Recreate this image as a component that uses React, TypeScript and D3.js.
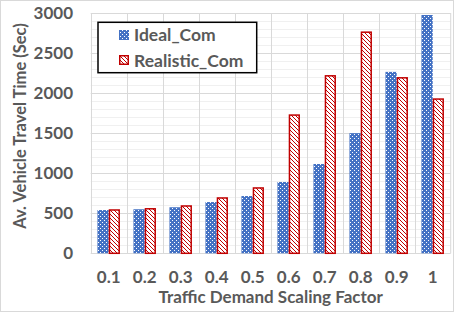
import React from "react";
import * as d3 from "d3";

const categories = ["0.1", "0.2", "0.3", "0.4", "0.5", "0.6", "0.7", "0.8", "0.9", "1"];
const seriesNames = ["Ideal_Com", "Realistic_Com"];
const idealValues = [540, 550, 575, 640, 715, 890, 1115, 1500, 2265, 2975];
const realisticValues = [550, 565, 600, 700, 825, 1735, 2225, 2770, 2200, 1935];
const yTicks = [0, 500, 1000, 1500, 2000, 2500, 3000];
const xTitle = "Traffic Demand Scaling Factor";
const yTitle = "Av. Vehicle Travel Time (Sec)";

const W = 454;
const H = 312;
const FONT = "Lato, 'Open Sans', sans-serif";
const TEXT = "#595959";

export default function App() {
  const left = 90.7, right = 450.7, top = 13, bottom = 253.3;
  const y = d3.scaleLinear().domain([0, 3000]).range([bottom, top]);
  const x0 = d3.scaleBand<string>().domain(categories).range([left, right]).padding(0);
  const x1 = d3.scaleBand<string>().domain(seriesNames).range([0, x0.bandwidth()]).paddingInner(0).paddingOuter(0.6);
  const minor = d3.range(0, 3001, 100).filter((v) => v % 500 !== 0);
  const seriesData = [idealValues, realisticValues];

  return (
    <svg width={W} height={H} style={{ position: "fixed", left: 0, top: 0 }} xmlns="http://www.w3.org/2000/svg">
      <defs>
        <pattern id="dots" width={4} height={4} patternUnits="userSpaceOnUse">
          <rect width={4} height={4} fill="#4472C4" />
          <rect x={0} y={0} width={1} height={1} fill="#ffffff" />
          <rect x={2} y={2} width={1} height={1} fill="#ffffff" />
        </pattern>
        <pattern id="hatch" width={4} height={4} patternUnits="userSpaceOnUse">
          <rect width={4} height={4} fill="#ffffff" />
          <path d="M-1,-1 L5,5 M-1,3 L1,5 M3,-1 L5,1" stroke="#C00000" strokeWidth={1} />
        </pattern>
      </defs>
      <rect x={0} y={0} width={W} height={H} fill="#ffffff" />
      <rect x={0.5} y={0.5} width={W - 1} height={H - 1} fill="none" stroke="#d9d9d9" />

      {minor.map((v) => (
        <line key={"mi" + v} x1={left} x2={right} y1={Math.round(y(v)) + 0.5} y2={Math.round(y(v)) + 0.5} stroke="#f0f0f0" />
      ))}
      {yTicks.map((v) => (
        <line key={"ma" + v} x1={left} x2={right} y1={Math.round(y(v)) + 0.5} y2={Math.round(y(v)) + 0.5} stroke="#d9d9d9" />
      ))}
      {categories.map((c) => (
        <line key={"v" + c} x1={Math.round(x0(c)!) + 0.5} x2={Math.round(x0(c)!) + 0.5} y1={top} y2={bottom} stroke="#d9d9d9" />
      ))}
      <line x1={right} x2={right} y1={top} y2={bottom} stroke="#d9d9d9" />

      {categories.map((c, i) => (
        <g key={"b" + c}>
          <rect x={x0(c)! + x1(seriesNames[0])!} y={y(seriesData[0][i])} width={x1.bandwidth()} height={bottom - y(seriesData[0][i])} fill="url(#dots)" />
          <rect x={x0(c)! + x1(seriesNames[1])! + 0.75} y={y(seriesData[1][i]) + 0.75} width={x1.bandwidth() - 1.5} height={bottom - y(seriesData[1][i]) - 0.75} fill="url(#hatch)" stroke="#C00000" strokeWidth={1.5} />
        </g>
      ))}

      {yTicks.map((v) => (
        <text key={"yt" + v} x={73} y={y(v)} dy="0.36em" textAnchor="end" fontFamily={FONT} fontWeight={700} fontSize={17} fill={TEXT}>{v}</text>
      ))}
      {categories.map((c) => (
        <text key={"xt" + c} x={x0(c)! + x0.bandwidth() / 2} y={277} dy="0.36em" textAnchor="middle" fontFamily={FONT} fontWeight={700} fontSize={17} fill={TEXT}>{c}</text>
      ))}
      <text x={(left + right) / 2} y={297} dy="0.36em" textAnchor="middle" fontFamily={FONT} fontWeight={700} fontSize={17} fill={TEXT}>{xTitle}</text>
      <text transform={`translate(20,${126}) rotate(-90)`} textAnchor="middle" dy="0.36em" fontFamily={FONT} fontWeight={700} fontSize={16.5} fill={TEXT}>{yTitle}</text>

      <rect x={98} y={22.3} width={158.7} height={50.4} fill="#ffffff" stroke="#000000" strokeWidth={1.5} />
      <rect x={119} y={30} width={10} height={10} fill="url(#dots)" />
      <rect x={119.75} y={55.75} width={8.5} height={8.5} fill="url(#hatch)" stroke="#C00000" strokeWidth={1.5} />
      <text x={134} y={35} dy="0.36em" fontFamily={FONT} fontWeight={700} fontSize={17.5} fill={TEXT}>{seriesNames[0]}</text>
      <text x={134} y={60.7} dy="0.36em" fontFamily={FONT} fontWeight={700} fontSize={17.5} fill={TEXT}>{seriesNames[1]}</text>
    </svg>
  );
}
